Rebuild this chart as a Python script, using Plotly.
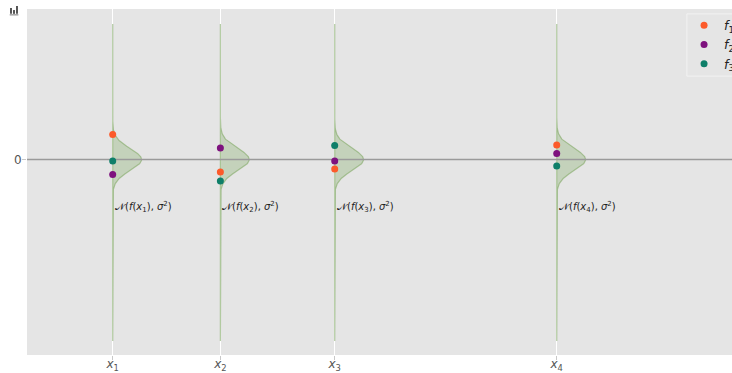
import numpy as np
import plotly.graph_objects as go

# input locations and their tick labels
x_points = [1.0, 1.97, 3.0, 5.0]
x_labels = ["<i>x</i><sub>1</sub>", "<i>x</i><sub>2</sub>", "<i>x</i><sub>3</sub>", "<i>x</i><sub>4</sub>"]

# function values f_k(x_i) for three sampled functions
f1_values = [0.50, -0.25, -0.19, 0.29]
f2_values = [-0.30, 0.23, -0.03, 0.12]
f3_values = [-0.03, -0.43, 0.28, -0.13]

series_names = ["<i>f</i><sub>1</sub>", "<i>f</i><sub>2</sub>", "<i>f</i><sub>3</sub>"]
series_colors = ["#fc5a2a", "#7e127e", "#0e7f69"]

# noise density drawn at each input
sigma = 0.22
density_width = 0.26          # horizontal extent of the density peak (x units)
y_span = (-3.63, 2.71)        # vertical extent of the density curves

x_range = [0.228, 6.579]
y_range = [-3.91, 3.01]

fig = go.Figure()

y_grid = np.linspace(y_span[0], y_span[1], 600)
pdf = np.exp(-0.5 * (y_grid / sigma) ** 2)
for i, xi in enumerate(x_points):
    curve_x = xi + density_width * pdf
    path_x = np.concatenate([curve_x, np.full(len(y_grid), xi)[::-1]])
    path_y = np.concatenate([y_grid, y_grid[::-1]])
    fig.add_trace(go.Scatter(
        x=path_x, y=path_y, mode="lines", fill="toself",
        fillcolor="rgba(128,170,98,0.32)",
        line=dict(color="rgba(128,168,100,0.6)", width=1.2),
        hoverinfo="skip", showlegend=False,
    ))
    fig.add_annotation(
        x=xi, y=-0.95, xref="x", yref="y", xanchor="left", yanchor="middle",
        text=f"𝒩(<i>f</i>(<i>x</i><sub>{i+1}</sub>), <i>σ</i><sup>2</sup>)",
        showarrow=False, font=dict(family="DejaVu Sans", size=10, color="#222222"),
    )

# horizontal reference line at zero
fig.add_trace(go.Scatter(
    x=x_range, y=[0, 0], mode="lines",
    line=dict(color="#9a9a9a", width=1.3),
    hoverinfo="skip", showlegend=False,
))

for name, vals, color in zip(series_names, [f1_values, f2_values, f3_values], series_colors):
    fig.add_trace(go.Scatter(
        x=x_points, y=vals, mode="markers", name=name,
        marker=dict(color=color, size=7),
    ))

# legend frame
fig.add_shape(type="rect", xref="paper", yref="paper", x0=0.936, x1=1.02,
              y0=0.806, y1=0.986, line=dict(color="#f2f2f2", width=1),
              fillcolor="rgba(0,0,0,0)", layer="below")

# small chart icon in the top-left corner
icon_bars = [(-0.0241, -0.0213, 0.986, 1.003), (-0.0199, -0.0170, 0.986, 0.997),
             (-0.0156, -0.0128, 0.986, 1.009)]
for x0, x1, y0, y1 in icon_bars:
    fig.add_shape(type="rect", xref="paper", yref="paper", x0=x0, x1=x1, y0=y0, y1=y1,
                  line=dict(width=0), fillcolor="#555555")
fig.add_shape(type="line", xref="paper", yref="paper", x0=-0.0245, x1=-0.0122,
              y0=0.983, y1=0.983, line=dict(color="#777777", width=1))

fig.update_layout(
    width=732, height=373,
    margin=dict(l=27, r=0, t=9, b=18, autoexpand=False),
    paper_bgcolor="white", plot_bgcolor="#e5e5e5",
    font=dict(family="DejaVu Sans", size=12, color="#555555"),
    legend=dict(
        x=0.932, y=0.995, xanchor="left", yanchor="top",
        bgcolor="rgba(0,0,0,0)", borderwidth=0,
        font=dict(family="DejaVu Sans", size=12.5, color="#222222"),
        itemwidth=30, tracegroupgap=0,
    ),
    xaxis=dict(
        range=x_range, tickvals=x_points, ticktext=x_labels,
        showgrid=True, gridcolor="white", gridwidth=1.2, zeroline=False,
        ticks="outside", ticklen=4, tickcolor="#c8c8c8", showline=False,
        tickfont=dict(size=12, color="#555555"), ticklabelstandoff=-6,
    ),
    yaxis=dict(
        range=y_range, tickvals=[0], ticktext=["0"],
        showgrid=True, gridcolor="white", gridwidth=1.2, zeroline=False,
        ticks="outside", ticklen=4, tickcolor="#c8c8c8", showline=False,
        tickfont=dict(size=12, color="#555555"), ticklabelstandoff=-2,
    ),
)

fig.write_html("out.html")
